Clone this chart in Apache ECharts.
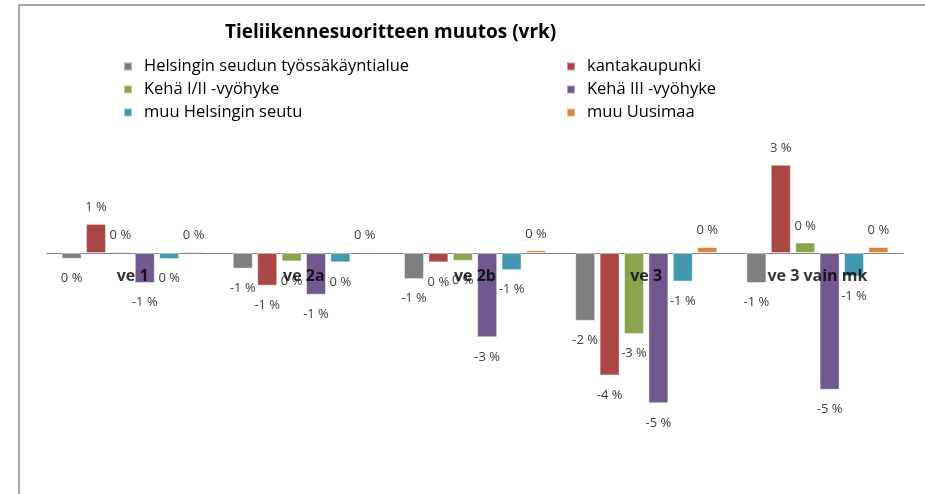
<!DOCTYPE html>
<html>
<head>
<meta charset="utf-8">
<script src="https://cdn.jsdelivr.net/npm/echarts@6/dist/echarts.min.js"></script>
<style>
  html, body { margin: 0; padding: 0; background: #fff; }
  #chartDom { width: 925px; height: 494px; }
</style>
</head>
<body>
<div id="chartDom"></div>
<script>
// vaihtoehdot (x-akseli)
const categories = ["ve 1", "ve 2a", "ve 2b", "ve 3", "ve 3 vain mk"];

// muutos prosentteina, luettu kuvasta
const tyossakayntialue = [-0.19, -0.52, -0.87, -2.26, -1.0];
const kantakaupunki = [0.97, -1.09, -0.31, -4.08, 2.94];
const keha12 = [0.05, -0.28, -0.26, -2.7, 0.35];
const keha3 = [-1.0, -1.39, -2.81, -5.01, -4.56];
const muuHelsinki = [-0.2, -0.31, -0.57, -0.95, -0.78];
const muuUusimaa = [0.05, 0.04, 0.09, 0.2, 0.2];

const seriesNames = [
  "Helsingin seudun työssäkäyntialue",
  "kantakaupunki",
  "Kehä I/II -vyöhyke",
  "Kehä III -vyöhyke",
  "muu Helsingin seutu",
  "muu Uusimaa",
];
const seriesData = [tyossakayntialue, kantakaupunki, keha12, keha3, muuHelsinki, muuUusimaa];
const colors = ["#7F7F7F", "#AA4643", "#89A54E", "#71588F", "#4198AF", "#DB843D"];

const font = "'Open Sans', 'Noto Sans', sans-serif";

const myChart = echarts.init(document.getElementById("chartDom"));

// legendan tekstityyli
const legendText = {
  fontFamily: font,
  fontSize: 16.5,
  color: "#000",
  lineHeight: 16,
  padding: [0, 0, 0, 7],
};

// pylväät, negatiivisten arvojen teksti vähän kauempana
const bars = seriesData.map((d, i) => ({
  name: seriesNames[i],
  type: "bar",
  data: d.map((v) => ({ value: v, label: { distance: v < 0 ? 13 : 10 } })),
  barWidth: 20,
  barGap: "22%",
  itemStyle: {
    color: colors[i],
    borderColor: "rgba(255,255,255,0.45)",
    borderWidth: 1,
  },
  label: {
    show: true,
    position: "outside",
    fontFamily: font,
    fontSize: 13,
    color: "#404040",
    formatter: (p) => Math.round(p.value) + " %",
  },
}));

// kategorianimet nollaviivan alle (pylväiden päälle)
const catLabels = {
  name: "kategoriat",
  type: "scatter",
  data: categories.map((c) => [c, 0]),
  symbolSize: 0,
  z: 10,
  silent: true,
  label: {
    show: true,
    position: "bottom",
    distance: 15,
    fontFamily: font,
    fontSize: 16,
    fontWeight: "bold",
    color: "#000",
    formatter: (p) => p.value[0],
  },
};

myChart.setOption({
  animation: false,
  color: colors,
  title: {
    text: "Tieliikennesuoritteen muutos (vrk)",
    left: 225,
    top: 23,
    padding: 0,
    textStyle: {
      fontFamily: font,
      fontSize: 19,
      fontWeight: "bold",
      color: "#000",
    },
  },
  // kaksi saraketta, kolme riviä kummassakin
  legend: [
    {
      data: seriesNames.filter((n, i) => i % 2 === 0),
      orient: "vertical",
      left: 123,
      top: 58,
      padding: 0,
      itemWidth: 8,
      itemHeight: 8,
      itemGap: 6,
      icon: "rect",
      textStyle: legendText,
    },
    {
      data: seriesNames.filter((n, i) => i % 2 === 1),
      orient: "vertical",
      left: 566,
      top: 58,
      padding: 0,
      itemWidth: 8,
      itemHeight: 8,
      itemGap: 6,
      icon: "rect",
      textStyle: legendText,
    },
  ],
  // kaavion kehys
  graphic: [
    {
      type: "rect",
      shape: { x: 19, y: 5, width: 1000, height: 600 },
      style: { fill: "transparent", stroke: "#8C8C8C", lineWidth: 1.5 },
      silent: true,
    },
  ],
  grid: {
    left: 47,
    right: 22,
    top: 133,
    bottom: 1,
    outerBoundsMode: "none",
  },
  xAxis: {
    type: "category",
    data: categories,
    axisLine: { onZero: true, lineStyle: { color: "#868686", width: 1 } },
    axisTick: { show: false },
    axisLabel: { show: false },
  },
  yAxis: {
    type: "value",
    min: -8,
    max: 4,
    show: false,
    splitLine: { show: false },
  },
  series: bars.concat([catLabels]),
});
</script>
</body>
</html>
